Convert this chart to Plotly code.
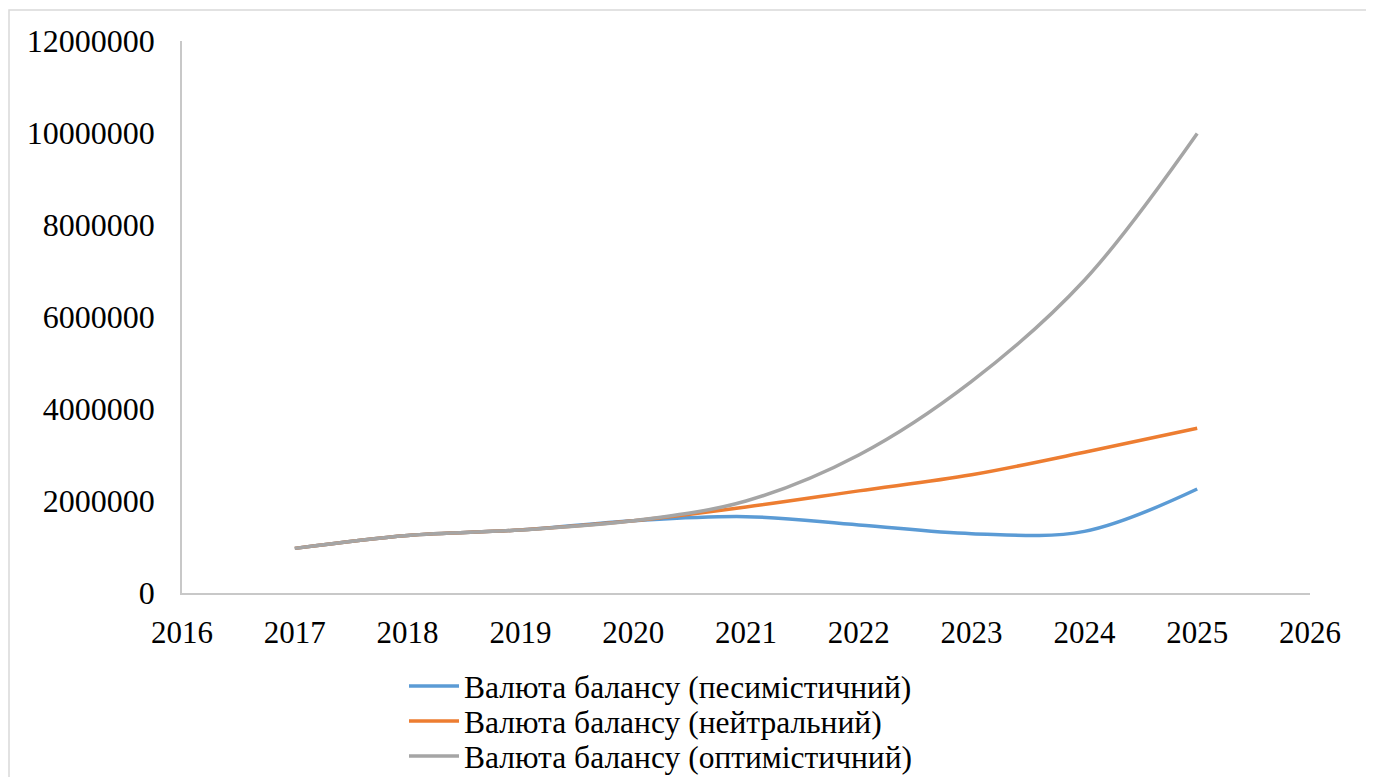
import plotly.graph_objects as go

years = [2017, 2018, 2019, 2020, 2021, 2022, 2023, 2024, 2025]
pessimistic = [970000, 1250000, 1370000, 1570000, 1660000, 1480000, 1290000, 1340000, 2260000]
neutral = [970000, 1250000, 1370000, 1570000, 1870000, 2220000, 2570000, 3060000, 3580000]
optimistic = [970000, 1250000, 1370000, 1570000, 2000000, 3000000, 4600000, 6800000, 9990000]

names = ["Валюта балансу (песимістичний)",
         "Валюта балансу (нейтральний)",
         "Валюта балансу (оптимістичний)"]
colors = ["#5B9BD5", "#ED7D31", "#A5A5A5"]
legend_ids = ["legend", "legend2", "legend3"]
legend_rows = [686, 721, 756]

fig = go.Figure()
for vals, name, col, lg in zip([pessimistic, neutral, optimistic], names, colors, legend_ids):
    fig.add_trace(go.Scatter(
        x=years, y=vals, name=name, mode="lines", legend=lg,
        line=dict(color=col, width=3.5, shape="spline", smoothing=1.0),
    ))

# page body has an 8px margin; compensate so the picture lines up
OFF = 8
W, H = 1374 - OFF, 777 - OFF
L, R, T, B = 182 - OFF, 64, 41 - OFF, 184
pw, ph = W - L - R, H - T - B

def px_x(p):
    return (p - OFF - L) / pw

def px_y(p):
    return (H - B - (p - OFF)) / ph

serif = "Liberation Serif, Times New Roman, serif"

legend_layouts = {}
for lg, row in zip(legend_ids, legend_rows):
    legend_layouts[lg] = dict(
        x=px_x(404), y=px_y(row), xanchor="left", yanchor="middle",
        font=dict(size=31.5, family=serif, color="#000000"),
        bgcolor="rgba(0,0,0,0)", itemwidth=50,
    )

fig.update_layout(
    width=W, height=H,
    margin=dict(l=L, r=R, t=T, b=B, autoexpand=False),
    paper_bgcolor="white", plot_bgcolor="white",
    font=dict(family=serif, size=31, color="#000000"),
    xaxis=dict(range=[2016, 2026], tickvals=list(range(2016, 2027)),
               showgrid=False, zeroline=False, showline=True,
               linecolor="#C8C8C8", linewidth=1.5, ticks="",
               ticklabelstandoff=11, fixedrange=True),
    yaxis=dict(range=[0, 12000000], tickvals=list(range(0, 12000001, 2000000)),
               tickformat="d", showgrid=False, zeroline=False, showline=True,
               linecolor="#C8C8C8", linewidth=1.5, ticks="",
               ticklabelstandoff=19, tickfont=dict(size=32), fixedrange=True),
    showlegend=True,
    shapes=[dict(type="rect", xref="paper", yref="paper",
                 x0=px_x(9), x1=px_x(1369), y0=px_y(800), y1=px_y(10),
                 line=dict(color="#D9D9D9", width=1.5), fillcolor="rgba(0,0,0,0)",
                 layer="below")],
    **legend_layouts,
)

fig.write_html("out.html")
